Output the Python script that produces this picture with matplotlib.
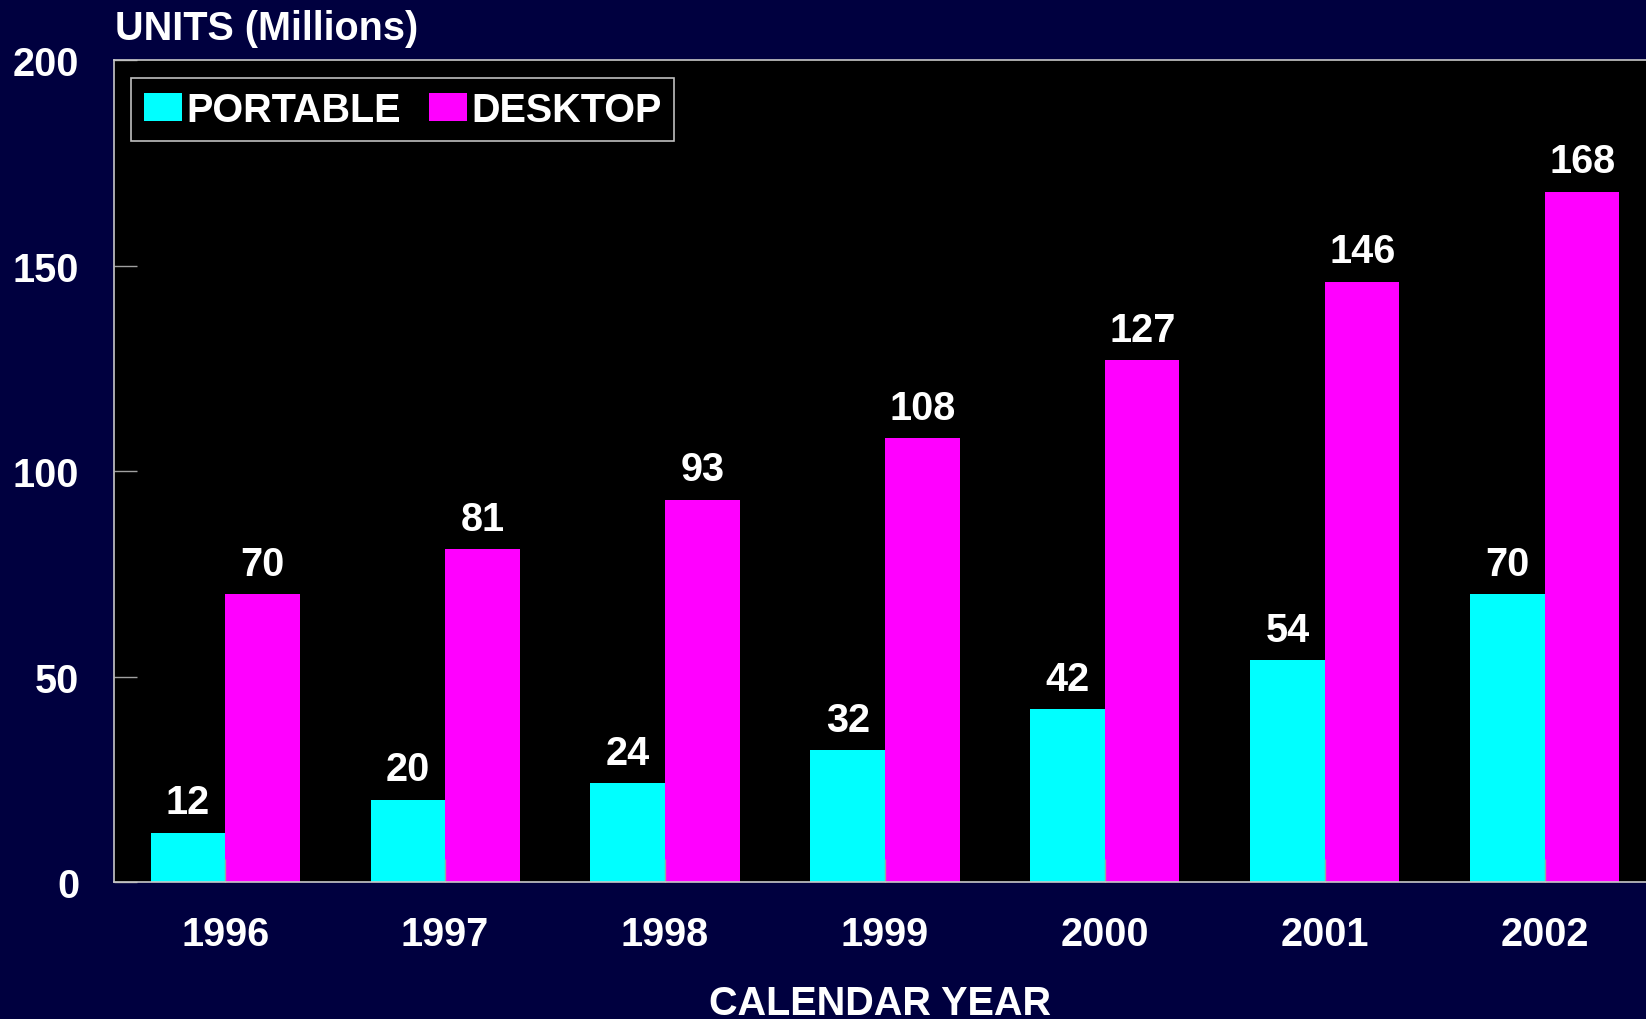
import numpy as np
import matplotlib.pyplot as plt

years = ["1996", "1997", "1998", "1999", "2000", "2001", "2002"]
portable = [12, 20, 24, 32, 42, 54, 70]
desktop = [70, 81, 93, 108, 127, 146, 168]

plt.rcParams["font.family"] = ["Liberation Sans", "DejaVu Sans"]
plt.rcParams["font.weight"] = "bold"

navy = "#00003f"
fs = 28.5
fig = plt.figure(figsize=(16.46, 10.20), dpi=100, facecolor=navy)
ax = fig.add_axes([0.0693, 0.1343, 0.9307, 0.8059])
ax.set_facecolor("black")

x = np.arange(len(years))
w = 0.339
b1 = ax.bar(x - w / 2, portable, w, color="#00ffff", label="PORTABLE")
b2 = ax.bar(x + w / 2, desktop, w, color="#ff00ff", label="DESKTOP")

for bars, vals in [(b1, portable), (b2, desktop)]:
    for r, v in zip(bars, vals):
        ax.annotate(str(v), (r.get_x() + r.get_width() / 2, v), xytext=(0, 14),
                    textcoords="offset points", ha="center", va="baseline",
                    color="white", fontsize=fs, fontweight="bold")

ax.set_xlim(-0.505, 6.46)
ax.set_ylim(0, 200)
ax.set_yticks([0, 50, 100, 150, 200])
ax.set_xticks(x)
ax.set_xticklabels(years)

ax.tick_params(axis="both", direction="in", length=16.5, width=1, color="#a0a0a0",
               labelcolor="white", labelsize=fs)
ax.tick_params(axis="x", pad=24)
ax.tick_params(axis="y", pad=25)

for s in ["left", "top", "bottom"]:
    ax.spines[s].set_color("#c8c8c8")
    ax.spines[s].set_linewidth(1.2)
ax.spines["right"].set_visible(False)

leg = ax.legend(loc="upper left", bbox_to_anchor=(0.011, 0.978), borderaxespad=0,
                ncol=2, fontsize=fs, frameon=True, fancybox=False,
                handlelength=0.98, handleheight=0.7, handletextpad=0.1,
                columnspacing=0.7, borderpad=0.32)
leg.get_frame().set_facecolor("black")
leg.get_frame().set_edgecolor("#c0c0c0")
leg.get_frame().set_linewidth(1.2)
leg.get_frame().set_alpha(1)
for t in leg.get_texts():
    t.set_color("white")
    t.set_fontweight("bold")

fig.text(115 / 1646, 1 - 40 / 1020, "UNITS (Millions)", color="white", fontsize=fs,
         fontweight="bold", ha="left", va="baseline")
fig.text(880 / 1646, 1 - 1015 / 1020, "CALENDAR YEAR", color="white", fontsize=fs,
         fontweight="bold", ha="center", va="baseline")

fig.savefig("out.png", dpi=100, facecolor=navy)
